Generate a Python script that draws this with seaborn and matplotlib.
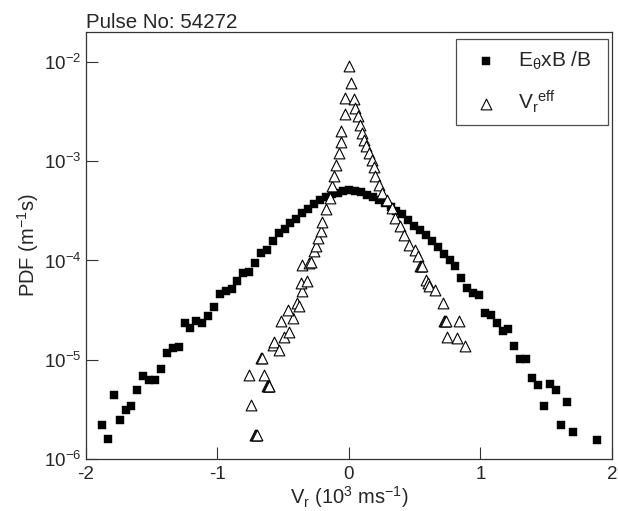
import numpy as np
import matplotlib
matplotlib.use("Agg")
import matplotlib.pyplot as plt
import seaborn as sns

# E_theta x B / B velocity PDF (histogram bin centres, 10^3 m/s)
exb_v = [-1.878, -1.833, -1.788, -1.743, -1.698, -1.654, -1.609, -1.564, -1.519, -1.474,
         -1.430, -1.385, -1.340, -1.295, -1.250, -1.206, -1.161, -1.116, -1.071, -1.026,
         -0.982, -0.937, -0.892, -0.847, -0.802, -0.758, -0.713, -0.668, -0.623, -0.578,
         -0.534, -0.489, -0.444, -0.399, -0.354, -0.310, -0.265, -0.220, -0.175, -0.130,
         -0.086, -0.041, 0.004, 0.049, 0.094, 0.138, 0.183, 0.228, 0.273, 0.318,
         0.362, 0.407, 0.452, 0.497, 0.542, 0.586, 0.631, 0.676, 0.721, 0.766,
         0.810, 0.855, 0.900, 0.945, 0.990, 1.034, 1.079, 1.124, 1.169, 1.214,
         1.258, 1.303, 1.348, 1.393, 1.438, 1.482, 1.527, 1.572, 1.617, 1.662,
         1.706, 1.886]
exb_pdf = [2.17e-6, 1.57e-6, 4.36e-6, 2.49e-6, 3.13e-6, 3.43e-6, 4.98e-6, 6.89e-6, 6.22e-6, 6.22e-6,
           8.09e-6, 1.18e-5, 1.31e-5, 1.34e-5, 2.36e-5, 2.11e-5, 2.48e-5, 2.34e-5, 2.73e-5, 3.37e-5,
           4.58e-5, 4.91e-5, 5.11e-5, 6.24e-5, 7.52e-5, 7.69e-5, 9.33e-5, 1.18e-4, 1.27e-4, 1.57e-4,
           1.87e-4, 2.09e-4, 2.38e-4, 2.59e-4, 3.01e-4, 3.32e-4, 3.67e-4, 4.03e-4, 4.36e-4, 4.70e-4,
           4.84e-4, 5.01e-4, 5.08e-4, 5.04e-4, 4.88e-4, 4.62e-4, 4.35e-4, 4.06e-4, 3.80e-4, 3.45e-4,
           3.16e-4, 2.92e-4, 2.57e-4, 2.20e-4, 2.04e-4, 1.82e-4, 1.56e-4, 1.38e-4, 1.17e-4, 1.02e-4,
           8.85e-5, 6.64e-5, 5.26e-5, 4.69e-5, 4.44e-5, 2.95e-5, 2.84e-5, 2.34e-5, 1.95e-5, 2.05e-5,
           1.38e-5, 1.02e-5, 1.02e-5, 6.52e-6, 5.62e-6, 3.45e-6, 5.68e-6, 4.98e-6, 2.17e-6, 3.73e-6,
           1.86e-6, 1.56e-6]

# Effective radial velocity PDF
veff_v = [-0.712, -0.707, -0.702, -0.743, -0.756, -0.643, -0.625, -0.618, -0.611, -0.604,
          -0.672, -0.664, -0.580, -0.567, -0.529, -0.491, -0.454, -0.516, -0.428, -0.466,
          -0.391, -0.378, -0.353, -0.365, -0.315, -0.353, -0.302, -0.290, -0.265, -0.252,
          -0.232, -0.214, -0.202, -0.172, -0.146, -0.131, -0.113, -0.101, -0.076, -0.063,
          -0.063, -0.030, -0.030, 0.013, 0.000,
          0.038, 0.050, 0.070, 0.081, 0.100, 0.113, 0.131, 0.151, 0.176, 0.190,
          0.200, 0.227, 0.252, 0.290, 0.328, 0.353, 0.390, 0.416, 0.454, 0.504,
          0.529, 0.540, 0.548, 0.556, 0.590, 0.600, 0.610, 0.655, 0.718, 0.720,
          0.728, 0.736, 0.840, 0.743, 0.819, 0.882]
veff_pdf = [1.75e-6, 1.75e-6, 1.75e-6, 3.51e-6, 7.05e-6, 7.05e-6, 5.37e-6, 5.37e-6, 5.37e-6, 5.37e-6,
            1.04e-5, 1.04e-5, 1.40e-5, 1.52e-5, 1.26e-5, 1.71e-5, 1.92e-5, 2.43e-5, 2.62e-5, 3.18e-5,
            3.72e-5, 3.44e-5, 4.88e-5, 5.92e-5, 6.14e-5, 9.06e-5, 9.42e-5, 9.55e-5, 1.26e-4, 1.41e-4,
            1.68e-4, 1.96e-4, 2.42e-4, 3.30e-4, 4.26e-4, 5.57e-4, 7.14e-4, 9.23e-4, 1.21e-3, 1.58e-3,
            2.00e-3, 2.99e-3, 4.34e-3, 6.22e-3, 9.04e-3,
            4.24e-3, 3.44e-3, 2.83e-3, 2.33e-3, 1.92e-3, 1.65e-3, 1.41e-3, 1.21e-3, 1.02e-3, 8.71e-4,
            7.03e-4, 5.79e-4, 4.78e-4, 4.09e-4, 3.37e-4, 2.67e-4, 2.20e-4, 1.82e-4, 1.44e-4, 1.28e-4,
            1.10e-4, 8.71e-5, 8.71e-5, 8.71e-5, 6.31e-5, 5.89e-5, 5.50e-5, 5.07e-5, 3.72e-5, 2.43e-5,
            2.43e-5, 2.43e-5, 2.43e-5, 1.71e-5, 1.66e-5, 1.36e-5]

x_ticks = [-2, -1, 0, 1, 2]
y_ticks = [1e-6, 1e-5, 1e-4, 1e-3, 1e-2]

sns.set_style("ticks")
plt.rcParams["font.family"] = ["Liberation Sans", "DejaVu Sans"]
plt.rcParams["mathtext.default"] = "regular"

fig = plt.figure(figsize=(6.18, 5.11), dpi=100)
ax = fig.add_axes([0.139, 0.102, 0.851, 0.835])

sns.scatterplot(x=exb_v, y=exb_pdf, ax=ax, marker="s", s=38, color="black",
                edgecolor="black", linewidth=0.3, label=r"E$_\theta$xB /B", zorder=2)
sns.scatterplot(x=veff_v, y=veff_pdf, ax=ax, marker="^", s=60, facecolor="white",
                edgecolor="black", linewidth=0.8, label=r"V$_r$$^{eff}$", zorder=3)

ax.set_yscale("log")
ax.set_xlim(-2, 2)
ax.set_ylim(1e-6, 2.0e-2)
ax.set_xticks(x_ticks)
ax.set_xticklabels([str(t) for t in x_ticks])
ax.set_yticks(y_ticks)
ax.minorticks_off()
ax.tick_params(axis="both", direction="in", length=8.5, width=0.8, color="#333333",
               labelsize=13.5, top=False, right=False)
ax.tick_params(axis="x", pad=5)
ax.tick_params(axis="y", pad=3)
for sp in ax.spines.values():
    sp.set_visible(True)
    sp.set_linewidth(0.9)
    sp.set_color("#333333")

ax.set_xlabel(r"V$_r$ (10$^3$ ms$^{-1}$)", fontsize=14.5, labelpad=1)
ax.set_ylabel(r"PDF (m$^{-1}$s)", fontsize=14.5, labelpad=2)
ax.set_title("Pulse No: 54272", loc="left", fontsize=14.8, pad=1)

# legend box spans a fixed width in the upper-right corner
leg_top = 1 - 7 / 427
leg = ax.legend(loc="upper left", bbox_to_anchor=(0.7034, leg_top - 0.3, 0.289, 0.3),
                mode="expand", borderaxespad=0, fontsize=15, frameon=True, fancybox=False,
                edgecolor="#222222", handlelength=1.9, handletextpad=0.6,
                borderpad=0.5, labelspacing=0.8, markerscale=1.0)
leg.get_frame().set_linewidth(0.9)

fig.savefig("out.png", dpi=100)
